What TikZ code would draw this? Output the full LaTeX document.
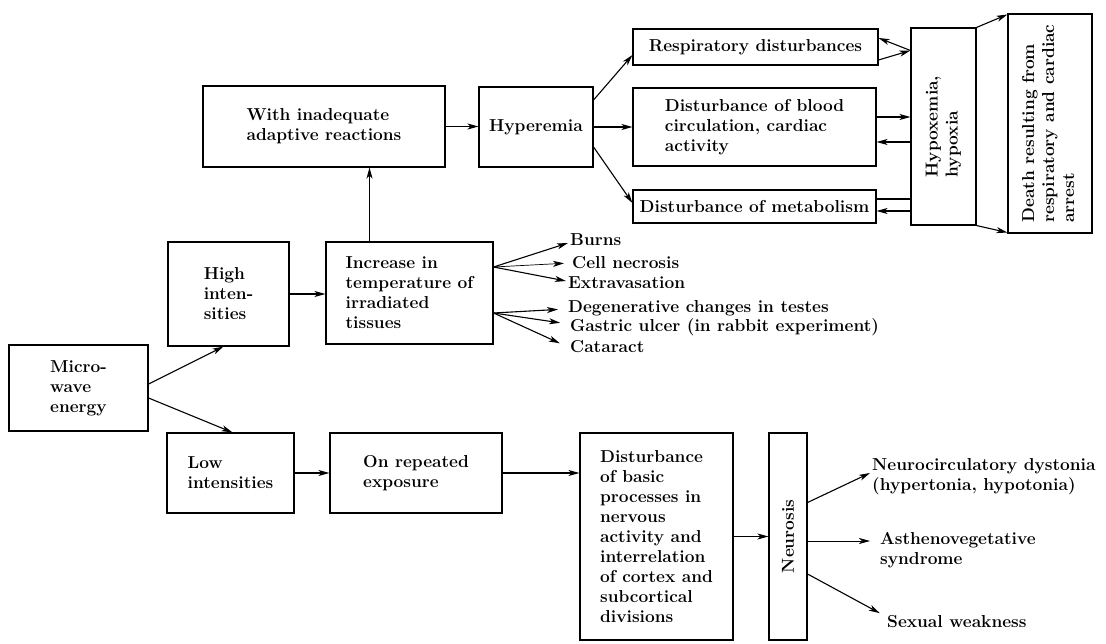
\documentclass[tikz,border=0pt]{standalone}
\usepackage{fontspec}
\usepackage{graphicx}
\usetikzlibrary{arrows.meta}

\tikzset{
  >={Stealth[length=11pt,width=6pt,inset=3pt]},
  every node/.style={font=\bfseries\fontsize{17.3}{20}\selectfont},
  box/.style={draw, line width=1.1pt, align=left, inner sep=3pt},
  upbox/.style={draw, line width=1.1pt, inner sep=3pt},
  effect/.style={anchor=west, inner sep=2pt, align=left},
  link/.style={->, line width=1.1pt},
}

\begin{document}
\begin{tikzpicture}[x=1pt,y=-1pt]
  \useasboundingbox (0,0) rectangle (1106,644);

  % left column
  \node[box, minimum width=139, minimum height=86] (micro) at (78.5,388) {Micro-\\wave\\energy};
  \node[box, minimum width=121, minimum height=104] (high) at (228.5,294) {High\\inten-\\sities};
  \node[box, minimum width=127, minimum height=80] (low) at (230.5,473) {Low\\intensities};

  % high intensities branch
  \node[box, minimum width=167, minimum height=102] (incr) at (409.5,293) {Increase in\\temperature of\\irradiated\\tissues};
  \node[box, minimum width=242, minimum height=81] (adapt) at (324,126.5) {With inadequate\\adaptive reactions};
  \node[box, minimum width=114, minimum height=80] (hyper) at (536,127) {Hyperemia};
  \node[box, minimum width=245, minimum height=36] (resp) at (755.5,47) {Respiratory disturbances};
  \node[box, minimum width=243, minimum height=78] (blood) at (754.5,127) {Disturbance of blood\\circulation, cardiac\\activity};
  \node[box, minimum width=243, minimum height=33] (metab) at (754.5,206.5) {Disturbance of metabolism};
  \node[upbox, minimum width=65, minimum height=197] (hypox) at (943.5,126.5)
    {\rotatebox{90}{\begin{tabular}{@{}l@{}}Hypoxemia,\\hypoxia\end{tabular}}};
  \node[upbox, minimum width=84, minimum height=219] (death) at (1050,123.5)
    {\rotatebox{90}{\begin{tabular}{@{}l@{}}Death resulting from\\respiratory and cardiac\\arrest\end{tabular}}};

  % direct effects of heating
  \node[effect] (burns) at (568,240) {Burns};
  \node[effect] (necro) at (570,263) {Cell necrosis};
  \node[effect] (extra) at (566,283) {Extravasation};
  \node[effect] (degen) at (566,308) {Degenerative changes in testes};
  \node[effect] (ulcer) at (568,327) {Gastric ulcer (in rabbit experiment)};
  \node[effect] (catar) at (568,347) {Cataract};

  % low intensities branch
  \node[box, minimum width=172, minimum height=80] (repeat) at (416,473) {On repeated\\exposure};
  \node[box, minimum width=153, minimum height=207] (basic) at (656.5,536.5)
    {Disturbance\\of basic\\processes in\\nervous\\activity and\\interrelation\\of cortex and\\subcortical\\divisions};
  \node[upbox, minimum width=38, minimum height=207] (neur) at (788,536.5) {\rotatebox{90}{Neurosis}};
  \node[effect] (ncd) at (870,477) {Neurocirculatory dystonia\\(hypertonia, hypotonia)};
  \node[effect] (asth) at (878,550) {Asthenovegetative\\syndrome};
  \node[effect] (sex) at (885,622) {Sexual weakness};

  % connectors
  \draw[link] ([yshift=4pt]micro.east) -- ([xshift=-5pt]high.south);
  \draw[link] ([yshift=-10pt]micro.east) -- ([xshift=2pt]low.north);
  \draw[link] (high.east) -- (high.east -| incr.west);
  \draw[link] ([xshift=-40pt]incr.north) -- ([xshift=-40pt]incr.north |- adapt.south);
  \draw[link] (adapt.east) -- (adapt.east -| hyper.west);
  \draw[link] ([yshift=27pt]hyper.east) -- ([yshift=-8pt]resp.west);
  \draw[link] (hyper.east) -- (blood.west);
  \draw[link] ([yshift=-20pt]hyper.east) -- ([yshift=3.5pt]metab.west);

  \coordinate (hx) at ([yshift=76pt]hypox.west);
  \draw[link] (hx) -- ([yshift=9pt]resp.east);
  \draw[link] ([yshift=-13pt]resp.east) -- (hx);
  \draw[link] ([yshift=10pt]blood.east) -- ([yshift=10pt]blood.east -| hypox.west);
  \draw[link] ([yshift=-15pt]blood.east -| hypox.west) -- ([yshift=-15pt]blood.east);
  \draw[line width=1.1pt] ([yshift=7.5pt]metab.east) -- ([yshift=7.5pt]metab.east -| hypox.west);
  \draw[link] ([yshift=-4.5pt]metab.east -| hypox.west) -- ([yshift=-4.5pt]metab.east);
  \draw[link] (hypox.north east) -- ([yshift=-1pt]death.north west);
  \draw[link] (hypox.south east) -- ([yshift=1pt]death.south west);

  \coordinate (fanA) at ([yshift=26pt]incr.east);
  \coordinate (fanB) at ([yshift=-20pt]incr.east);
  \draw[link] (fanA) -- ([yshift=-3pt]burns.west);
  \draw[link, line width=0.7pt, shorten >=6pt] (fanA) -- (necro.west);
  \draw[link] (fanA) -- ([yshift=2pt]extra.west);
  \draw[link, shorten >=8pt] (fanB) -- ([yshift=-1pt]degen.west);
  \draw[link, shorten >=8pt] (fanB) -- ([yshift=3pt]ulcer.west);
  \draw[link, shorten >=9pt] (fanB) -- (catar.west);

  \draw[link] (low.east) -- (repeat.west);
  \draw[link] (repeat.east) -- (repeat.east -| basic.west);
  \draw[link] (basic.east) -- (neur.west);
  \draw[link] ([yshift=34pt]neur.east) -- ([yshift=4pt]ncd.west);
  \draw[link, line width=0.7pt, shorten >=8pt] ([yshift=-4.5pt]neur.east) -- ([yshift=9pt]asth.west);
  \draw[link, shorten >=6pt] ([yshift=-37.5pt]neur.east) -- ([yshift=6pt]sex.west);
\end{tikzpicture}
\end{document}
